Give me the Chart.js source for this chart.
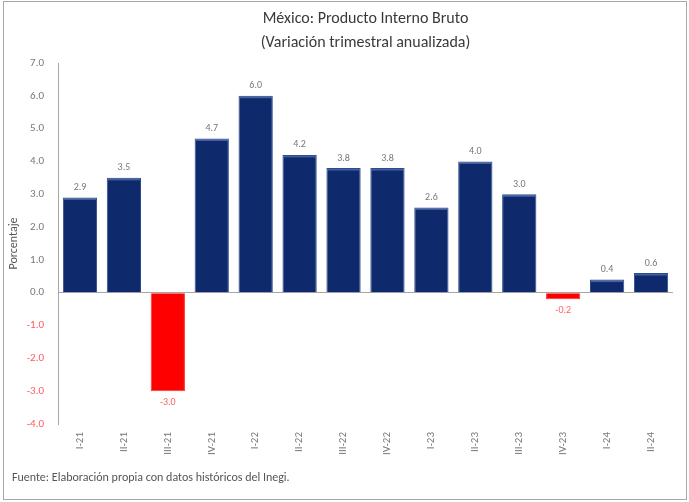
<!DOCTYPE html>
<html>
<head>
<meta charset="utf-8">
<script src="https://cdn.jsdelivr.net/npm/chart.js@4"></script>
<style>
  body { margin: 0; background: #fff; }
  #wrap { position: relative; width: 689px; height: 502px; }
  #frame { position: absolute; left: 3px; top: 1px; width: 682px; height: 497px; border: 1px solid #a8a8a8; }
  #grafica { position: absolute; left: 0; top: 0; }
  #fuente { position: absolute; left: 12px; top: 470px; font: 12px Carlito, Lato, sans-serif; color: #555; }
</style>
</head>
<body>
<div id="wrap">
  <div id="frame"></div>
  <canvas id="grafica" width="689" height="502"></canvas>
  <div id="fuente">Fuente: Elaboración propia con datos históricos del Inegi.</div>
</div>
<script>
const trimestres = ['I-21', 'II-21', 'III-21', 'IV-21', 'I-22', 'II-22', 'III-22', 'IV-22', 'I-23', 'II-23', 'III-23', 'IV-23', 'I-24', 'II-24'];
const variacion = [2.9, 3.5, -3.0, 4.7, 6.0, 4.2, 3.8, 3.8, 2.6, 4.0, 3.0, -0.2, 0.4, 0.6];
const titulo = ['México: Producto Interno Bruto', '(Variación trimestral anualizada)'];

const fuente = 'Carlito, Lato, sans-serif';
const azul = '#0f2a6c';
const rojo = '#ff0000';

// titulo centrado sobre el area de la grafica
const tituloPlugin = {
  id: 'tituloArea',
  afterDraw(chart) {
    const c = chart.ctx;
    const x = (chart.chartArea.left + chart.chartArea.right) / 2;
    c.save();
    c.font = '16px ' + fuente;
    c.fillStyle = '#3a3a3a';
    c.textAlign = 'center';
    c.textBaseline = 'middle';
    c.fillText(titulo[0], x, 19);
    c.fillText(titulo[1], x, 43);
    c.restore();
  }
};

// etiquetas de valor arriba o abajo de cada barra
const etiquetas = {
  id: 'etiquetas',
  afterDatasetsDraw(chart) {
    const c = chart.ctx;
    const meta = chart.getDatasetMeta(0);
    c.save();
    c.font = '10px ' + fuente;
    c.textAlign = 'center';
    c.textBaseline = 'middle';
    meta.data.forEach((bar, i) => {
      const v = variacion[i];
      if (v < 0) {
        c.fillStyle = '#ff6060';
        c.fillText(v.toFixed(1), bar.x, bar.y + 11);
      } else {
        c.fillStyle = '#777';
        c.fillText(v.toFixed(1), bar.x, bar.y - 10);
        // brillo en el borde superior de la barra
        c.fillStyle = 'rgba(110,140,200,0.55)';
        c.fillRect(bar.x - bar.width / 2 + 1, bar.y + 1, bar.width - 2, 1.5);
      }
    });
    c.restore();
  }
};

const ctx = document.querySelector('#grafica').getContext('2d');
const myChart = new Chart(ctx, {
  type: 'bar',
  data: {
    labels: trimestres,
    datasets: [{
      label: 'Variación',
      data: variacion,
      backgroundColor: variacion.map(v => v < 0 ? rojo : azul),
      borderColor: variacion.map(v => v < 0 ? '#ff3030' : '#2e4b8f'),
      borderWidth: 1,
      borderSkipped: 'start',
      categoryPercentage: 1,
      barPercentage: 0.78
    }]
  },
  options: {
    responsive: false,
    animation: false,
    layout: { padding: { top: 63, right: 16, left: 0, bottom: 0 } },
    plugins: {
      legend: { display: false },
      tooltip: { enabled: false }
    },
    scales: {
      x: {
        grid: { display: false, drawTicks: false },
        border: { display: false },
        ticks: {
          minRotation: 90, maxRotation: 90, padding: 8,
          font: { family: fuente, size: 11 }, color: '#777'
        },
        afterFit(s) { s.height = 78; }
      },
      y: {
        min: -4, max: 7,
        grid: {
          drawTicks: false,
          color: c => c.tick.value === 0 ? '#a6a6a6' : 'rgba(0,0,0,0)'
        },
        border: { display: true, color: '#a6a6a6' },
        ticks: {
          stepSize: 1, padding: 14,
          font: { family: fuente, size: 11 },
          color: c => c.tick.value < 0 ? '#ff5a5a' : '#777',
          callback: v => v.toFixed(1)
        },
        title: {
          display: true, text: 'Porcentaje',
          font: { family: fuente, size: 12 }, color: '#555',
          padding: { top: 7, bottom: 0 }
        },
        afterFit(s) { s.width = 58; }
      }
    }
  },
  plugins: [tituloPlugin, etiquetas]
});
</script>
</body>
</html>
